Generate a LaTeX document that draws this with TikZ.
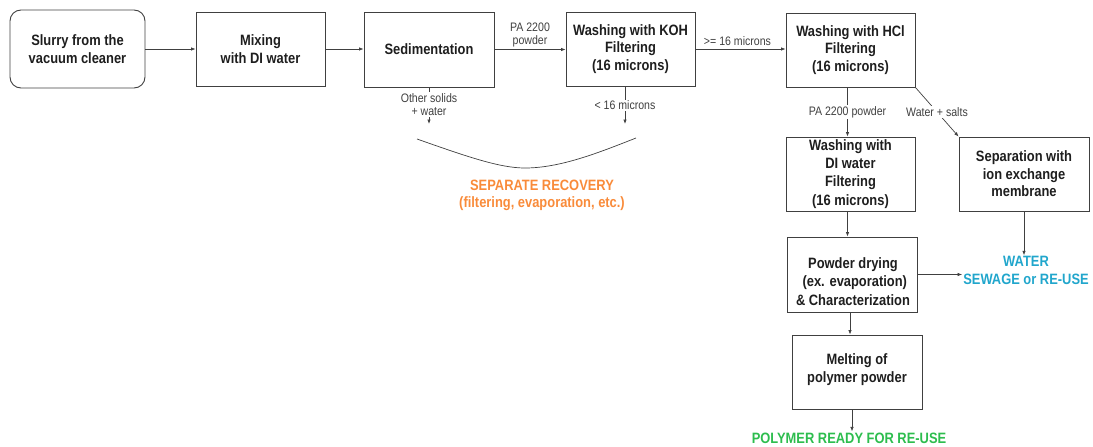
\documentclass[tikz,border=0pt]{standalone}
\usepackage{fontspec}
\setmainfont[FakeStretch=0.86]{Liberation Sans}
\usetikzlibrary{arrows.meta}
\definecolor{recov}{HTML}{F98B3A}
\definecolor{waterc}{HTML}{21A6CC}
\definecolor{polyc}{HTML}{2DBD4E}
\definecolor{ink}{HTML}{1E1E1E}
\tikzset{
  boxnode/.style={draw=ink!85, line width=0.9pt, align=center, text=ink,
    font=\fontsize{15}{17.5}\selectfont\bfseries, inner sep=2pt},
  lbl/.style={font=\fontsize{12.3}{13.5}\selectfont, text=ink!85, align=center, inner sep=1pt},
  lblw/.style={lbl, fill=white},
  arr/.style={draw=ink!85, line width=0.7pt, -{Latex[length=4.5pt,width=3.5pt]}},
  ln/.style={draw=ink!85, line width=0.7pt},
  outtxt/.style={font=\fontsize{15}{17.5}\selectfont\bfseries, align=center, inner sep=1pt}
}
\begin{document}
\begin{tikzpicture}[x=1pt,y=-1pt]
\useasboundingbox (0,0) rectangle (1093,447);
% boxes
\node[boxnode, rounded corners=11pt, minimum width=135pt, minimum height=78pt] (slurry) at (77.5,49) {Slurry from the\\vacuum cleaner};
\node[boxnode, minimum width=129pt, minimum height=74pt] (mix) at (260.5,49) {Mixing\\with DI water};
\node[boxnode, minimum width=130pt, minimum height=75pt] (sed) at (429,49.5) {Sedimentation};
\node[boxnode, minimum width=129pt, minimum height=74pt] (koh) at (630.5,49) {Washing with KOH\\Filtering\\(16 microns)};
\node[boxnode, minimum width=129pt, minimum height=74pt] (hcl) at (850.5,50) {Washing with HCl\\Filtering\\(16 microns)};
\node[boxnode, minimum width=129pt, minimum height=74pt, font=\fontsize{15}{18.2}\selectfont\bfseries] (di) at (850.5,174) {Washing with\\DI water\\Filtering\\(16 microns)};
\node[boxnode, minimum width=130pt, minimum height=74pt] (sep) at (1024,174) {Separation with\\ion exchange\\membrane};
\node[boxnode, minimum width=130pt, minimum height=75pt] (dry) at (852,274.5) {};
\node[outtxt, text=ink, font=\fontsize{15}{18.3}\selectfont\bfseries] (drytxt) at (853,281.5) {Powder drying\\\ (ex. evaporation)\\\& Characterization};
\node[boxnode, minimum width=130pt, minimum height=74pt] (mel) at (857,372) {Melting of\\polymer powder\\[-9.5pt]};
% output texts
\node[outtxt, text=recov] (recov) at (542,195.5) {SEPARATE RECOVERY\\(filtering, evaporation, etc.)};
\node[outtxt, text=waterc] (wat) at (1026,270.5) {WATER\\SEWAGE or RE-USE};
\node[outtxt, text=polyc] (poly) at (849,438) {POLYMER READY FOR RE-USE};
% tips
\coordinate (ostip) at (429,124);
\coordinate (kohtip) at (625,124);
\coordinate (cl) at (417,139);
\coordinate (cb) at (525,168);
\coordinate (cr) at (636,138);
% main row
\draw[arr] (slurry.east) -- (mix.west);
\draw[arr] (mix.west -| mix.east) -- (sed.west |- mix.east);
\draw[arr] (sed.east) -- node[lbl, above=1pt] (pa1) {PA 2200\\powder} (koh.west |- sed.east);
\draw[arr] (koh.east) -- node[lbl, above=2pt, xshift=-3pt] (ge16) {>= 16 microns} (hcl.west |- koh.east);
% downward side streams
\draw[arr] (sed.south) -- node[lblw, pos=0.47] (os) {Other solids\\+ water} (ostip);
\draw[arr] (koh.south -| kohtip) -- node[lblw, pos=0.5] (lt16) {< 16 microns} (kohtip);
\draw[ln] (cl) .. controls (468,157) and (500,168) .. (cb) .. controls (560,168) and (598,153) .. (cr);
% HCl branch
\draw[arr] (hcl.south -| di.south) ++(-3pt,0) coordinate (hs) -- node[lblw, pos=0.5] (pa2) {PA 2200 powder} (hs |- di.north);
\draw[arr] (hcl.south east) -- node[lblw, pos=0.5] (ws) {Water + salts} (sep.north west);
% lower chain
\draw[arr] (hs |- di.south) -- (hs |- dry.north);
\draw[arr] (dry.east) -- (dry.east -| wat.west);
\draw[arr] (sep.south) -- (sep.south |- wat.north);
\draw[arr] (dry.south) ++(-2pt,0) coordinate (ds) -- (ds |- mel.north);
\draw[arr] (poly.north |- mel.south) ++(3pt,0) coordinate (ms) -- (ms |- poly.north);
\end{tikzpicture}
\end{document}
